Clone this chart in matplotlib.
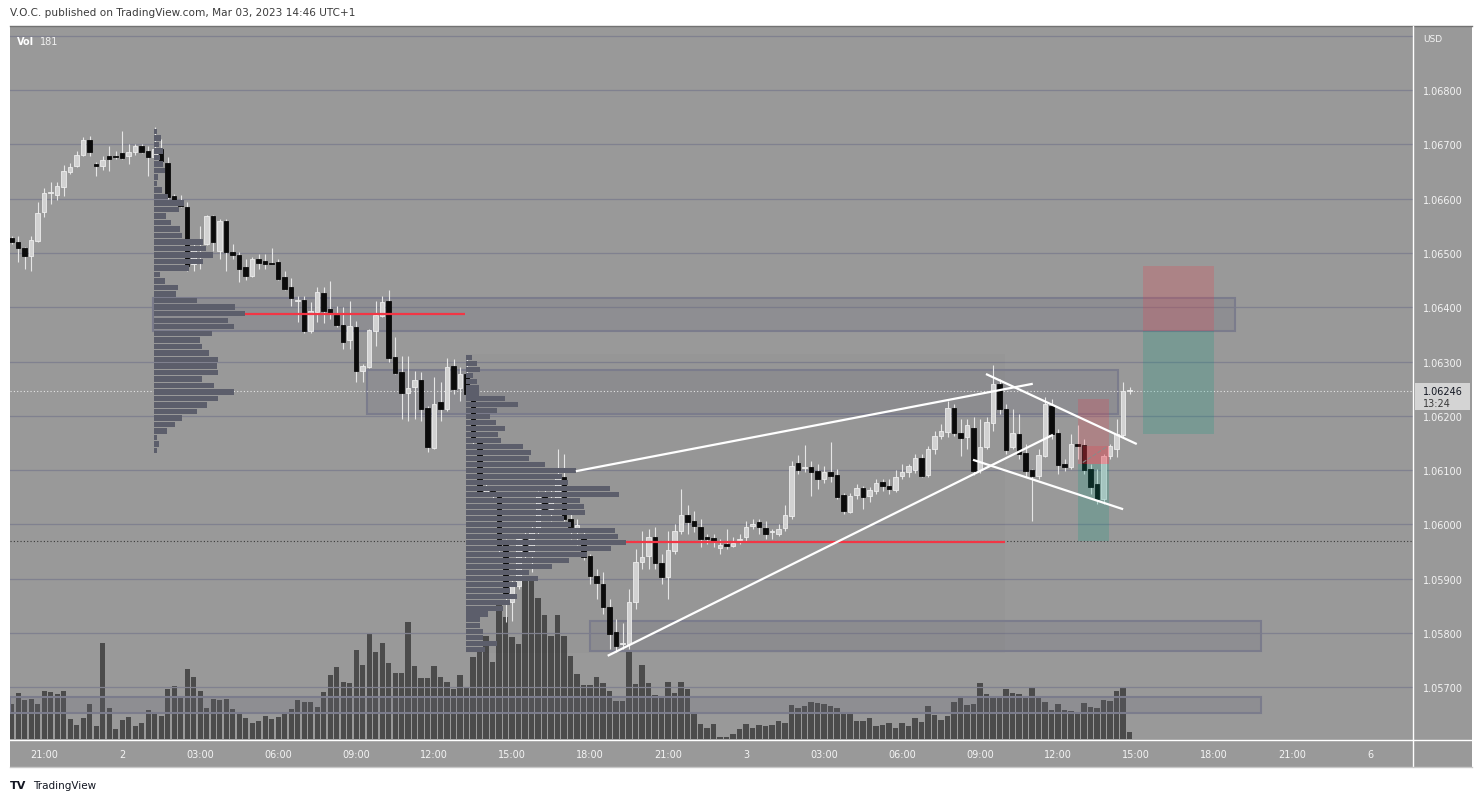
import numpy as np
import matplotlib.pyplot as plt
from matplotlib.patches import Rectangle
from matplotlib.lines import Line2D

W, H, DPI = 1481, 804, 100

# 15 minute bars, EURUSD, prices in 1e-5 units
opens = [106527, 106520, 106509, 106494, 106522, 106575, 106610, 106607, 106621, 106649,
         106660, 106680, 106708, 106664, 106660, 106678, 106677, 106684, 106678, 106686,
         106697, 106688, 106677, 106691, 106666, 106605, 106590, 106585, 106480, 106507,
         106516, 106568, 106504, 106559, 106502, 106496, 106474, 106457, 106489, 106485,
         106481, 106483, 106456, 106437, 106411, 106413, 106356, 106391, 106426, 106397,
         106386, 106367, 106340, 106364, 106283, 106290, 106356, 106384, 106411, 106308,
         106281, 106242, 106253, 106266, 106214, 106141, 106225, 106213, 106292, 106251,
         106277, 106240, 106152, 106060, 106062, 106052, 105964, 105857, 105887, 105973,
         105942, 105992, 106052, 106028, 106047, 106087, 106010, 105992, 105977, 105942,
         105905, 105890, 105848, 105802, 105780, 105780, 105857, 105931, 105942, 105977,
         105929, 105903, 105951, 105988, 106017, 106006, 105995, 105977, 105975, 105957,
         105964, 105960, 105971, 105977, 105997, 106004, 105993, 105986, 105982, 105993,
         106015, 106113, 106104, 106106, 106098, 106084, 106097, 106091, 106054, 106023,
         106054, 106067, 106052, 106062, 106078, 106071, 106063, 106089, 106097, 106100,
         106122, 106091, 106139, 106163, 106170, 106214, 106168, 106161, 106178, 106100,
         106143, 106187, 106259, 106213, 106143, 106166, 106132, 106100, 106089, 106126,
         106218, 106168, 106111, 106106, 106148, 106146, 106102, 106074, 106047, 106126,
         106139, 106165, 106246]
highs = [106531, 106531, 106511, 106531, 106594, 106620, 106631, 106631, 106662, 106666,
         106688, 106713, 106715, 106667, 106678, 106697, 106688, 106724, 106701, 106701,
         106701, 106697, 106732, 106710, 106677, 106608, 106607, 106594, 106522, 106550,
         106570, 106570, 106562, 106562, 106516, 106502, 106489, 106492, 106498, 106498,
         106509, 106489, 106467, 106454, 106421, 106421, 106410, 106437, 106437, 106448,
         106402, 106400, 106411, 106375, 106296, 106360, 106411, 106421, 106432, 106345,
         106310, 106310, 106283, 106281, 106218, 106272, 106262, 106306, 106304, 106290,
         106308, 106246, 106157, 106074, 106069, 106056, 105973, 105899, 105982, 105992,
         106001, 106062, 106065, 106065, 106139, 106130, 106019, 106010, 105988, 105945,
         105918, 105912, 105863, 105826, 105818, 105881, 105955, 105988, 105992, 105995,
         105945, 105988, 106001, 106065, 106036, 106025, 106010, 105982, 105982, 105973,
         105992, 105977, 105982, 106006, 106010, 106010, 106006, 105992, 106001, 106036,
         106117, 106128, 106146, 106117, 106111, 106108, 106152, 106102, 106058, 106058,
         106074, 106071, 106069, 106084, 106084, 106084, 106100, 106111, 106111, 106130,
         106130, 106144, 106172, 106185, 106227, 106222, 106194, 106194, 106198, 106194,
         106198, 106294, 106268, 106222, 106213, 106203, 106148, 106102, 106139, 106235,
         106231, 106176, 106120, 106166, 106183, 106157, 106111, 106102, 106130, 106148,
         106194, 106262, 106253]
lows = [106516, 106483, 106470, 106467, 106520, 106566, 106590, 106597, 106605, 106645,
        106658, 106678, 106678, 106642, 106653, 106651, 106673, 106673, 106664, 106680,
        106684, 106642, 106673, 106664, 106599, 106596, 106585, 106467, 106467, 106470,
        106515, 106504, 106489, 106467, 106489, 106446, 106450, 106456, 106470, 106470,
        106480, 106450, 106432, 106402, 106373, 106352, 106352, 106373, 106371, 106378,
        106364, 106323, 106323, 106262, 106262, 106288, 106329, 106382, 106299, 106277,
        106194, 106191, 106194, 106191, 106133, 106139, 106191, 106209, 106240, 106227,
        106231, 106146, 106056, 106052, 106047, 105949, 105820, 105822, 105881, 105936,
        105912, 105982, 106019, 106006, 106041, 106006, 105973, 105962, 105934, 105890,
        105863, 105835, 105771, 105765, 105771, 105771, 105844, 105918, 105918, 105918,
        105890, 105863, 105945, 105982, 105982, 105986, 105958, 105964, 105958, 105945,
        105955, 105958, 105964, 105969, 105992, 105982, 105973, 105973, 105979, 105988,
        106010, 106093, 106097, 106052, 106065, 106076, 106078, 106047, 106019, 106021,
        106047, 106028, 106041, 106056, 106062, 106056, 106060, 106084, 106087, 106095,
        106087, 106087, 106130, 106157, 106161, 106163, 106126, 106139, 106091, 106095,
        106139, 106172, 106203, 106130, 106139, 106120, 106087, 106006, 106084, 106124,
        106157, 106093, 106098, 106102, 106120, 106093, 106056, 106038, 106038, 106120,
        106124, 106161, 106240]
closes = [106520, 106509, 106494, 106524, 106573, 106610, 106613, 106623, 106651, 106658,
          106680, 106708, 106686, 106660, 106671, 106673, 106676, 106675, 106686, 106697,
          106686, 106677, 106691, 106669, 106603, 106597, 106586, 106476, 106507, 106513,
          106568, 106520, 106559, 106502, 106496, 106470, 106457, 106489, 106481, 106480,
          106480, 106452, 106434, 106417, 106412, 106356, 106393, 106428, 106393, 106387,
          106367, 106336, 106365, 106283, 106292, 106358, 106386, 106410, 106306, 106279,
          106242, 106251, 106266, 106213, 106143, 106222, 106213, 106290, 106249, 106277,
          106240, 106152, 106060, 106063, 106052, 105955, 105872, 105887, 105973, 105942,
          105992, 106052, 106028, 106047, 106087, 106010, 105995, 105999, 105940, 105905,
          105892, 105848, 105798, 105776, 105781, 105857, 105931, 105940, 105977, 105929,
          105903, 105953, 105988, 106017, 106004, 105997, 105973, 105973, 105969, 105962,
          105960, 105966, 105972, 105995, 106001, 105995, 105982, 105987, 105992, 106017,
          106108, 106100, 106105, 106097, 106084, 106097, 106089, 106050, 106025, 106052,
          106067, 106050, 106063, 106076, 106071, 106065, 106087, 106097, 106108, 106122,
          106089, 106139, 106163, 106172, 106214, 106168, 106159, 106183, 106098, 106143,
          106189, 106259, 106213, 106137, 106168, 106130, 106098, 106089, 106128, 106222,
          106166, 106109, 106106, 106148, 106144, 106100, 106069, 106047, 106126, 106144,
          106166, 106246, 106246]
volumes = [910, 1196, 1014, 1040, 910, 1248, 1222, 1170, 1248, 520,
           364, 546, 910, 338, 2496, 806, 260, 494, 572, 338,
           416, 754, 676, 598, 1300, 1378, 1092, 1820, 1612, 1248,
           806, 1040, 1014, 1040, 780, 650, 546, 416, 468, 598,
           520, 572, 650, 780, 1014, 962, 962, 832, 1222, 1664,
           1872, 1482, 1456, 2314, 1924, 2756, 2262, 2496, 1976, 1716,
           1716, 3042, 1898, 1586, 1586, 1898, 1612, 1482, 1300, 1664,
           1352, 2132, 2288, 2678, 2002, 3510, 3172, 2652, 2470, 4160,
           4160, 3666, 3224, 2678, 3224, 2678, 2158, 1690, 1404, 1404,
           1612, 1456, 1248, 988, 988, 2262, 1430, 1924, 1456, 1144,
           1066, 1482, 1196, 1482, 1300, 650, 390, 286, 390, 52,
           52, 130, 260, 390, 286, 364, 338, 364, 468, 416,
           884, 806, 858, 962, 936, 910, 858, 806, 702, 702,
           468, 468, 546, 338, 364, 416, 286, 416, 338, 546,
           442, 858, 624, 494, 598, 962, 1092, 884, 910, 1456,
           1170, 1092, 1066, 1300, 1196, 1170, 1066, 1326, 1066, 962,
           754, 910, 754, 728, 702, 936, 832, 806, 1014, 988,
           1248, 1326, 181]

# session volume profiles (row volumes, top row first)
profile1_top, profile1_step = 1.06724, 0.00012
profile1_rows = [3, 7, 5, 9, 6, 9, 11, 4, 3, 8, 14, 30, 25, 12, 17, 26, 28, 49, 52, 59,
                 49, 35, 6, 11, 24, 22, 43, 81, 91, 74, 80, 58, 46, 48, 55, 64, 63, 64, 48, 60,
                 80, 64, 53, 43, 28, 21, 13, 3, 5, 3]
profile2_top, profile2_step = 1.06308, 0.00011
profile2_rows = [6, 11, 14, 7, 11, 13, 13, 39, 52, 31, 24, 30, 39, 32, 35, 57, 65, 63, 79, 110,
                 96, 102, 144, 153, 114, 118, 119, 98, 105, 149, 152, 160, 145, 121, 103, 86, 63, 72, 51, 44,
                 51, 44, 37, 22, 14, 14, 17, 17, 31, 19]

time_ticks = [5, 17, 29, 41, 53, 65, 77, 89, 101, 113, 125, 137, 149, 161, 173, 185, 197, 209]
time_labels = ["21:00", "2", "03:00", "06:00", "09:00", "12:00", "15:00", "18:00", "21:00",
               "3", "03:00", "06:00", "09:00", "12:00", "15:00", "18:00", "21:00", "6"]
price_ticks = [1.057, 1.058, 1.059, 1.060, 1.061, 1.062, 1.063, 1.064, 1.065, 1.066, 1.067, 1.068]
grid_prices = price_ticks + [1.069]
last_price = 1.06246

# drawings: (x0, x1, y0, y1) in bar index / price
zones = [(54.7, 170.2, 1.06203, 1.06284),
         (21.7, 188.2, 1.06356, 1.06417),
         (89.0, 192.2, 1.05767, 1.05822),
         (-0.3, 192.2, 1.05653, 1.05682)]
trend_lines = [((86.8, 157.1), (1.06098, 1.06259)),
               ((91.7, 160.2), (1.05758, 1.06165)),
               ((149.9, 173.1), (1.06277, 1.06148)),
               ((147.9, 171.0), (1.06119, 1.06028))]


def fx(px):
    return px / W


def fy(py):
    return 1 - py / H


BG = '#999999'
GRID = '#80818f'

fig = plt.figure(figsize=(W / DPI, H / DPI), dpi=DPI)
fig.patch.set_facecolor('white')
fig.add_artist(Rectangle((fx(10), fy(768)), fx(1472) - fx(10), fy(27) - fy(768),
                         transform=fig.transFigure, facecolor=BG, edgecolor='none', zorder=-5))

rect = [fx(10), fy(740), fx(1413) - fx(10), fy(27) - fy(740)]
xlim = (-0.26, 215.6)
ylim = (1.056048, 1.069179)

# volume pane underneath
axv = fig.add_axes(rect, zorder=1)
axv.set_facecolor(BG)
x = np.arange(len(volumes))
axv.bar(x, volumes, width=0.82, color='#4b4b4b', linewidth=0)
axv.set_xlim(*xlim)
axv.set_ylim(0, 18538)
axv.axis('off')

ax = fig.add_axes(rect, zorder=2)
ax.set_facecolor('none')
ax.set_xlim(*xlim)
ax.set_ylim(*ylim)
for s in ax.spines.values():
    s.set_visible(False)

for p in grid_prices:
    ax.axhline(p, color=GRID, lw=0.9, zorder=1)

# profile value-area background
ax.add_patch(Rectangle((69.9, 1.05763), 82.9, 0.00551, facecolor=(0, 0, 0, 0.02),
                       edgecolor='none', zorder=1))

for x0, x1, y0, y1 in zones:
    ax.add_patch(Rectangle((x0, y0), x1 - x0, y1 - y0, facecolor=(0.42, 0.42, 0.48, 0.22),
                           edgecolor='#7b7c8c', lw=1.5, zorder=2))

# candles
o = np.array(opens) / 1e5
h = np.array(highs) / 1e5
l = np.array(lows) / 1e5
c = np.array(closes) / 1e5
up = c >= o
ax.vlines(x, l, h, color='#e6e6e6', lw=0.8, zorder=4)
bot = np.minimum(o, c)
hgt = np.maximum(np.abs(c - o), 0.00002)
ax.bar(x[up], hgt[up], bottom=bot[up], width=0.7, color='#d2d2d2',
       edgecolor='#ededed', lw=0.6, zorder=5)
ax.bar(x[~up], hgt[~up], bottom=bot[~up], width=0.7, color='#0b0b0b',
       edgecolor='#0b0b0b', lw=0.6, zorder=5)

# volume profiles
prof_color = '#5c5e6b'
r1 = profile1_top - profile1_step * np.arange(len(profile1_rows))
ax.barh(r1, np.array(profile1_rows) / 6.5, left=21.9, height=profile1_step * 0.84,
        color=prof_color, lw=0, zorder=6)
r2 = profile2_top - profile2_step * np.arange(len(profile2_rows))
ax.barh(r2, np.array(profile2_rows) / 6.5, left=69.9, height=profile2_step * 0.84,
        color=prof_color, lw=0, zorder=6)
poc1 = int(np.argmax(profile1_rows))
poc2 = int(np.argmax(profile2_rows))
ax.hlines(r1[poc1], 21.9 + profile1_rows[poc1] / 6.5, 69.7, color='#f23645', lw=1.6, zorder=6)
ax.hlines(r2[poc2], 69.9 + profile2_rows[poc2] / 6.5, 152.8, color='#f23645', lw=1.6, zorder=6)

# price lines
ax.axhline(last_price, color='#e6e6e6', lw=0.8, ls=(0, (1, 2)), zorder=3)
ax.axhline(1.05970, color='#3a3a3a', lw=0.8, ls=(0, (1, 2)), zorder=3)

# position tools
red = (242 / 255, 54 / 255, 69 / 255, 0.22)
green = (8 / 255, 153 / 255, 129 / 255, 0.22)
ax.add_patch(Rectangle((174.0, 1.06356), 11.0, 0.00120, facecolor=red, edgecolor='none', zorder=7))
ax.add_patch(Rectangle((174.0, 1.06166), 11.0, 0.00190, facecolor=green, edgecolor='none', zorder=7))
ax.add_patch(Rectangle((164.0, 1.06111), 4.8, 0.00120, facecolor=red, edgecolor='none', zorder=7))
ax.add_patch(Rectangle((164.0, 1.05969), 4.8, 0.00142, facecolor=green, edgecolor='none', zorder=7))
ax.add_patch(Rectangle((164.8, 1.06111), 4.0, 0.00033, facecolor=red, edgecolor='none', zorder=7))
ax.plot([164.8, 168.6], [1.06114, 1.06144], color='#8a8a8a', lw=0.8, ls='--', zorder=7)

for xs, ys in trend_lines:
    ax.plot(xs, ys, color='white', lw=1.6, solid_capstyle='butt', zorder=8)

# axes labels
ax.yaxis.tick_right()
ax.set_yticks(price_ticks)
ax.set_yticklabels([f"{p:.5f}" for p in price_ticks])
ax.tick_params(axis='y', length=0, pad=7, labelsize=7, labelcolor='#f4f4f4')
ax.set_xticks(time_ticks)
ax.set_xticklabels(time_labels)
ax.tick_params(axis='x', length=0, pad=7.5, labelsize=7, labelcolor='#f4f4f4')

# separators and borders
fig.add_artist(Line2D([fx(10), fx(1472)], [fy(27), fy(27)], transform=fig.transFigure,
                      color='#727272', lw=1, zorder=10))
fig.add_artist(Line2D([fx(10), fx(1472)], [fy(740.5), fy(740.5)], transform=fig.transFigure,
                      color='white', lw=1, zorder=10))
fig.add_artist(Line2D([fx(1413), fx(1413)], [fy(27), fy(768)], transform=fig.transFigure,
                      color='white', lw=1, zorder=10))
fig.add_artist(Line2D([fx(10), fx(1472)], [fy(768), fy(768)], transform=fig.transFigure,
                      color='#c8c8c8', lw=1, zorder=10))

# last price label on the scale
fig.add_artist(Rectangle((fx(1415), fy(411)), fx(1470) - fx(1415), fy(384) - fy(411),
                         transform=fig.transFigure, facecolor='#d4d4d4', edgecolor='none', zorder=11))
fig.text(fx(1423), fy(392), "1.06246", fontsize=7, color='#131722', va='center', zorder=12)
fig.text(fx(1423), fy(404), "13:24", fontsize=7, color='#3a3a3a', va='center', zorder=12)
fig.text(fx(1423), fy(40), "USD", fontsize=6.5, color='#f4f4f4', va='center', zorder=12)

fig.text(fx(17), fy(42), "Vol", fontsize=7, color='white', fontweight='bold', va='center', zorder=12)
fig.text(fx(40), fy(42), "181", fontsize=7, color='#f0f0f0', va='center', zorder=12)

fig.text(fx(10), fy(13), "V.O.C. published on TradingView.com, Mar 03, 2023 14:46 UTC+1",
         fontsize=7.6, color='#3c3c3c', va='center')
fig.text(fx(10), fy(786), "TV", fontsize=8, color='#131722', fontweight='heavy', va='center')
fig.text(fx(33), fy(786), "TradingView", fontsize=7.5, color='#131722', va='center')

fig.savefig('out.png', dpi=DPI, facecolor='white')
